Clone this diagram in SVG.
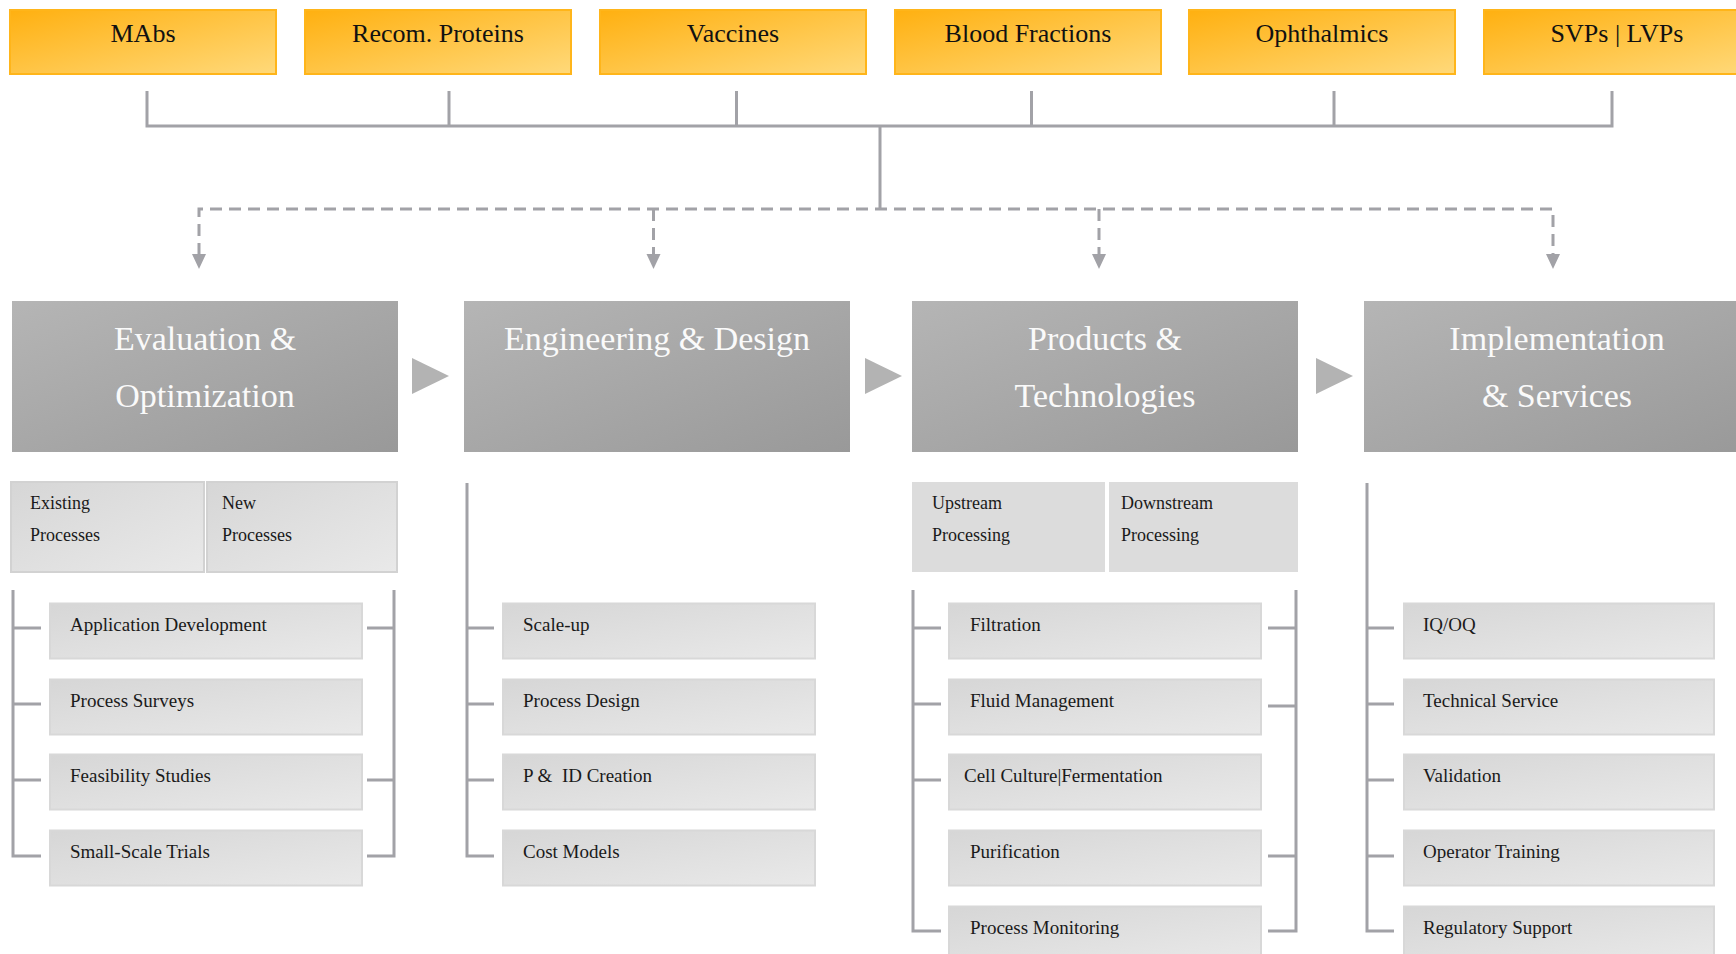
<svg xmlns="http://www.w3.org/2000/svg" width="1736" height="954" viewBox="0 0 1736 954">
<defs>
<linearGradient id="gOrange" x1="0" y1="0" x2="1" y2="1">
<stop offset="0" stop-color="#FFB010"/>
<stop offset="1" stop-color="#FFD97A"/>
</linearGradient>
<linearGradient id="gHead" x1="0" y1="0" x2="1" y2="1">
<stop offset="0" stop-color="#B5B5B5"/>
<stop offset="1" stop-color="#999999"/>
</linearGradient>
<linearGradient id="gItem" x1="0" y1="0" x2="1" y2="1">
<stop offset="0" stop-color="#D6D6D6"/>
<stop offset="1" stop-color="#E9E9E9"/>
</linearGradient>
</defs>
<style>
text{font-family:"Liberation Serif","DejaVu Serif",serif;}
.top rect{fill:url(#gOrange);stroke:#FFB51A;stroke-width:2;}
.top text{font-size:26px;fill:#111;text-anchor:middle;}
.head rect{fill:url(#gHead);}
.head text{font-size:34px;fill:#FAFAFA;text-anchor:middle;}
.sub{fill:url(#gItem);stroke:#D2D2D2;stroke-width:2;}
.subflat{fill:#DCDCDC;}
.item rect{fill:url(#gItem);stroke:#D8D8D8;stroke-width:2;}
.lbl{font-size:18px;fill:#1a1a1a;}
.item text{font-size:19px;fill:#1a1a1a;}
.ln{fill:none;stroke:#A2A2A7;stroke-width:3;}
.dash{fill:none;stroke:#A2A2A7;stroke-width:3;stroke-dasharray:12 7;}
.ah{fill:#A2A2A7;}
.tri{fill:#B3B3B3;}
</style>
<rect width="1736" height="954" fill="#FFFFFF"/>

<g id="top-mabs" class="top"><rect x="10" y="10" width="266" height="64"/><text x="143" y="42">MAbs</text></g>
<g id="top-recom" class="top"><rect x="305" y="10" width="266" height="64"/><text x="438" y="42">Recom. Proteins</text></g>
<g id="top-vaccines" class="top"><rect x="600" y="10" width="266" height="64"/><text x="733" y="42">Vaccines</text></g>
<g id="top-blood" class="top"><rect x="895" y="10" width="266" height="64"/><text x="1028" y="42">Blood Fractions</text></g>
<g id="top-ophth" class="top"><rect x="1189" y="10" width="266" height="64"/><text x="1322" y="42">Ophthalmics</text></g>
<g id="top-svps" class="top"><rect x="1484" y="10" width="266" height="64"/><text x="1617" y="42">SVPs | LVPs</text></g>

<g id="connectors">
<path class="ln" d="M147 91V126H1612V91M449 91V126M736.5 91V126M1031.5 91V126M1334 91V126M880 126V209"/>
<path class="dash" d="M199 255V209H1553V255M653.5 209V255M1099 209V255"/>
<polygon class="ah" points="192,254 206,254 199,269"/>
<polygon class="ah" points="646.5,254 660.5,254 653.5,269"/>
<polygon class="ah" points="1092,254 1106,254 1099,269"/>
<polygon class="ah" points="1546,254 1560,254 1553,269"/>
<polygon class="tri" points="412,358 412,394 449,376"/>
<polygon class="tri" points="865,358 865,394 902,376"/>
<polygon class="tri" points="1316,358 1316,394 1353,376"/>
<path class="ln" d="M13 590V856H41M13 628H41M13 704H41M13 780H41"/>
<path class="ln" d="M394 590V856H367M394 628H367M394 780H367"/>
<path class="ln" d="M467 483V856H494M467 628H494M467 704H494M467 780H494"/>
<path class="ln" d="M913 590V931H941M913 628H941M913 704H941M913 780H941"/>
<path class="ln" d="M1296 590V931H1268M1296 628H1268M1296 706H1268M1296 856H1268"/>
<path class="ln" d="M1367 483V931H1394M1367 628H1394M1367 704H1394M1367 780H1394M1367 856H1394"/>
</g>

<g id="head-eval" class="head"><rect x="12" y="301" width="386" height="151"/><text x="205" y="350">Evaluation &amp;</text><text x="205" y="407">Optimization</text></g>
<g id="head-eng" class="head"><rect x="464" y="301" width="386" height="151"/><text x="657" y="350">Engineering &amp; Design</text></g>
<g id="head-prod" class="head"><rect x="912" y="301" width="386" height="151"/><text x="1105" y="350">Products &amp;</text><text x="1105" y="407">Technologies</text></g>
<g id="head-impl" class="head"><rect x="1364" y="301" width="386" height="151"/><text x="1557" y="350">Implementation</text><text x="1557" y="407">&amp; Services</text></g>

<g id="sub-existing"><rect class="sub" x="11" y="482" width="193" height="90"/><text class="lbl" x="30" y="509">Existing</text><text class="lbl" x="30" y="541">Processes</text></g>
<g id="sub-new"><rect class="sub" x="207" y="482" width="190" height="90"/><text class="lbl" x="222" y="509">New</text><text class="lbl" x="222" y="541">Processes</text></g>
<g id="sub-upstream"><rect class="subflat" x="912" y="482" width="193" height="90"/><text class="lbl" x="932" y="509">Upstream</text><text class="lbl" x="932" y="541">Processing</text></g>
<g id="sub-downstream"><rect class="subflat" x="1109" y="482" width="189" height="90"/><text class="lbl" x="1121" y="509">Downstream</text><text class="lbl" x="1121" y="541">Processing</text></g>

<g id="item-appdev" class="item"><rect x="50" y="603.5" width="312" height="55"/><text x="70" y="630.5">Application Development</text></g>
<g id="item-surveys" class="item"><rect x="50" y="679.5" width="312" height="55"/><text x="70" y="706.5">Process Surveys</text></g>
<g id="item-feas" class="item"><rect x="50" y="754.5" width="312" height="55"/><text x="70" y="781.5">Feasibility Studies</text></g>
<g id="item-trials" class="item"><rect x="50" y="830.5" width="312" height="55"/><text x="70" y="857.5">Small-Scale Trials</text></g>

<g id="item-scaleup" class="item"><rect x="503" y="603.5" width="312" height="55"/><text x="523" y="630.5">Scale-up</text></g>
<g id="item-pdesign" class="item"><rect x="503" y="679.5" width="312" height="55"/><text x="523" y="706.5">Process Design</text></g>
<g id="item-pid" class="item"><rect x="503" y="754.5" width="312" height="55"/><text x="523" y="781.5" xml:space="preserve">P &amp;  ID Creation</text></g>
<g id="item-cost" class="item"><rect x="503" y="830.5" width="312" height="55"/><text x="523" y="857.5">Cost Models</text></g>

<g id="item-filtration" class="item"><rect x="949" y="603.5" width="312" height="55"/><text x="970" y="630.5">Filtration</text></g>
<g id="item-fluid" class="item"><rect x="949" y="679.5" width="312" height="55"/><text x="970" y="706.5">Fluid Management</text></g>
<g id="item-cell" class="item"><rect x="949" y="754.5" width="312" height="55"/><text x="964" y="781.5">Cell Culture|Fermentation</text></g>
<g id="item-purif" class="item"><rect x="949" y="830.5" width="312" height="55"/><text x="970" y="857.5">Purification</text></g>
<g id="item-monitor" class="item"><rect x="949" y="906.5" width="312" height="55"/><text x="970" y="933.5">Process Monitoring</text></g>

<g id="item-iqoq" class="item"><rect x="1404" y="603.5" width="310" height="55"/><text x="1423" y="630.5">IQ/OQ</text></g>
<g id="item-tech" class="item"><rect x="1404" y="679.5" width="310" height="55"/><text x="1423" y="706.5">Technical Service</text></g>
<g id="item-valid" class="item"><rect x="1404" y="754.5" width="310" height="55"/><text x="1423" y="781.5">Validation</text></g>
<g id="item-oper" class="item"><rect x="1404" y="830.5" width="310" height="55"/><text x="1423" y="857.5">Operator Training</text></g>
<g id="item-reg" class="item"><rect x="1404" y="906.5" width="310" height="55"/><text x="1423" y="933.5">Regulatory Support</text></g>
</svg>
